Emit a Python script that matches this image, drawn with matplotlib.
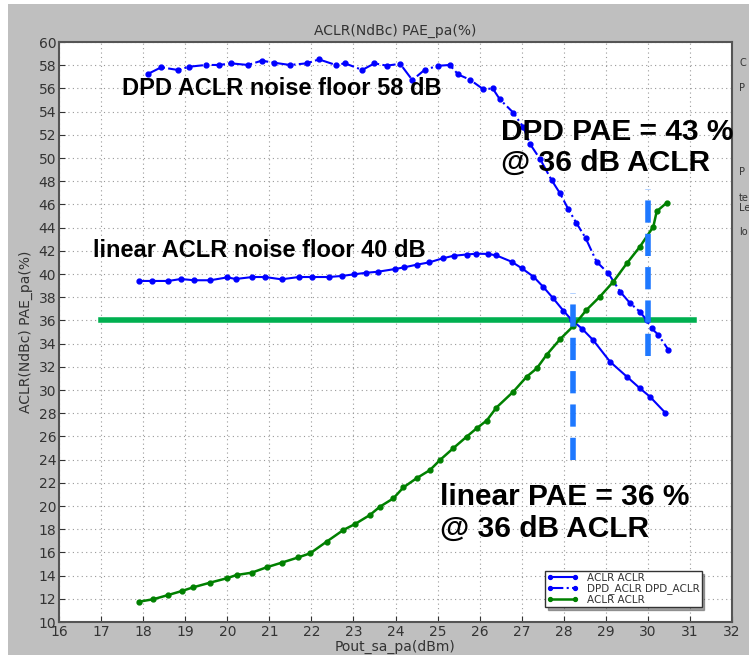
"""ACLR / PAE vs output power: linear PA vs DPD, with 36 dB ACLR markers."""
import matplotlib
matplotlib.use("Agg")
import matplotlib.pyplot as plt
from matplotlib.patches import Rectangle

# ── Data ─────────────────────────────────────────────────────────────

pout_lin = [17.90, 18.22, 18.60, 18.90, 19.21, 19.60, 20.00, 20.20, 20.60, 20.90,
            21.29, 21.70, 22.01, 22.41, 22.72, 23.01, 23.29, 23.59, 23.99, 24.20,
            24.50, 24.80, 25.12, 25.38, 25.69, 25.92, 26.20, 26.40, 26.76, 27.00,
            27.28, 27.51, 27.75, 27.99, 28.19, 28.43, 28.70, 29.10, 29.50, 29.81,
            30.05, 30.41]
aclr_lin = [39.40, 39.40, 39.40, 39.57, 39.46, 39.46, 39.71, 39.57, 39.74, 39.74,
            39.54, 39.74, 39.74, 39.74, 39.83, 39.97, 40.10, 40.20, 40.43, 40.57,
            40.80, 41.00, 41.35, 41.57, 41.68, 41.75, 41.73, 41.60, 41.06, 40.50,
            39.77, 38.90, 37.90, 36.84, 36.03, 35.30, 34.30, 32.44, 31.15, 30.15,
            29.42, 28.05]

pout_dpd = [18.11, 18.43, 18.82, 19.10, 19.49, 19.81, 20.09, 20.49, 20.82, 21.10,
            21.49, 21.89, 22.18, 22.58, 22.80, 23.21, 23.50, 23.79, 24.11, 24.40,
            24.70, 25.02, 25.29, 25.49, 25.77, 26.09, 26.31, 26.48, 26.80, 27.04,
            27.20, 27.44, 27.71, 27.91, 28.11, 28.30, 28.52, 28.78, 29.06, 29.34,
            29.58, 29.81, 29.97, 30.09, 30.25, 30.49]
aclr_dpd = [57.24, 57.82, 57.59, 57.87, 58.02, 58.02, 58.16, 58.02, 58.39, 58.22,
            58.02, 58.16, 58.50, 58.02, 58.16, 57.59, 58.16, 57.96, 58.12, 56.72,
            57.62, 57.95, 58.02, 57.20, 56.75, 55.92, 56.00, 55.06, 53.91, 52.65,
            51.20, 49.89, 48.10, 46.96, 45.58, 44.40, 43.10, 41.06, 40.06, 38.48,
            37.47, 36.75, 36.03, 35.32, 34.74, 33.45]

pout_pae = [17.90, 18.24, 18.60, 18.92, 19.19, 19.59, 19.99, 20.22, 20.58, 20.94,
            21.29, 21.69, 21.97, 22.36, 22.76, 23.04, 23.39, 23.63, 23.95, 24.19,
            24.50, 24.82, 25.06, 25.37, 25.69, 25.93, 26.17, 26.40, 26.80, 27.12,
            27.36, 27.59, 27.91, 28.23, 28.54, 28.86, 29.18, 29.50, 29.81, 30.13,
            30.21, 30.45]
pae = [11.75, 11.96, 12.33, 12.67, 12.99, 13.39, 13.77, 14.05, 14.25, 14.72,
       15.11, 15.57, 15.92, 16.92, 17.93, 18.45, 19.22, 19.94, 20.66, 21.61,
       22.39, 23.10, 23.97, 24.97, 25.97, 26.70, 27.37, 28.49, 29.85, 31.15,
       31.87, 33.02, 34.37, 35.52, 36.90, 38.05, 39.34, 40.92, 42.35, 44.08,
       45.40, 46.15]

aclr_target = 36.0
target_span = [17.0, 31.1]
pout_at_target = [28.21, 30.01]
vline_lo = [24.0, 32.9]
vline_hi = [38.4, 47.3]

legend_labels = ["ACLR ACLR", "DPD_ACLR DPD_ACLR", "ACLR ACLR"]
side_labels = ["C", "P", "P", "te\nLe", "lo"]

# ── Plot ─────────────────────────────────────────────────────────────

c_blue = "#0000ff"
c_green = "#008000"
c_target = "#00b050"
c_vline = "#1e78ff"
c_text = "#333333"

fig = plt.figure(figsize=(7.49, 6.59), dpi=100)
fig.patch.set_facecolor("white")
fig.patches.append(Rectangle((8 / 749, 4 / 659), 1, 1 - 8 / 659,
                             transform=fig.transFigure, facecolor="#bfbfbf",
                             edgecolor="none", zorder=-10))

ax = fig.add_axes([59 / 749, 37 / 659, 673 / 749, 580 / 659])
ax.set_facecolor("white")

ax.plot(pout_lin, aclr_lin, "-", color=c_blue, lw=1.5, marker="o", ms=3.5,
        label=legend_labels[0], zorder=4)
ax.plot(pout_dpd, aclr_dpd, "-.", color=c_blue, lw=1.5, marker="o", ms=3.5,
        label=legend_labels[1], zorder=4)
ax.plot(pout_pae, pae, "-", color=c_green, lw=1.8, marker="o", ms=3.5,
        label=legend_labels[2], zorder=4)

ax.plot(target_span, [aclr_target, aclr_target], color=c_target, lw=4, zorder=3)
for xv, lo, hi in zip(pout_at_target, vline_lo, vline_hi):
    ax.plot([xv, xv], [lo, hi], color=c_vline, lw=4, ls=(0, (4, 2)), zorder=5)

ax.set_xlim(16, 32)
ax.set_ylim(10, 60)
ax.set_xticks(range(16, 33))
ax.set_yticks(range(10, 61, 2))
ax.grid(True, ls=(0, (1, 3)), color="#999999", lw=0.8)
ax.tick_params(labelsize=10, colors=c_text, length=4, direction="in", pad=2)
for s in ax.spines.values():
    s.set_color("#555555")
    s.set_linewidth(1.5)

ax.set_title("ACLR(NdBc) PAE_pa(%)", fontsize=10, color=c_text, pad=5)
ax.set_xlabel("Pout_sa_pa(dBm)", fontsize=10, color=c_text, labelpad=1)
ax.set_ylabel("ACLR(NdBc) PAE_pa(%)", fontsize=10, color=c_text, labelpad=4)

txt = dict(family="Liberation Sans", weight="bold", color="black", zorder=6)
ax.text(17.5, 56.0, "DPD ACLR noise floor 58 dB", fontsize=17, va="center", **txt)
ax.text(16.8, 42.0, "linear ACLR noise floor 40 dB", fontsize=17, va="center", **txt)
ax.text(26.5, 50.9, "DPD PAE = 43 %\n@ 36 dB ACLR", fontsize=21.5, va="center",
        linespacing=1.15, **txt)
ax.text(25.05, 19.4, "linear PAE = 36 %\n@ 36 dB ACLR", fontsize=21.5, va="center",
        linespacing=1.15, **txt)

leg = ax.legend(loc="lower right", bbox_to_anchor=(0.955, 0.026), borderaxespad=0,
                fontsize=7.5, labelspacing=0.05, handlelength=3, numpoints=2,
                borderpad=0.2, fancybox=False, shadow=True, framealpha=1,
                edgecolor="#333333", markerscale=0.8)
for t in leg.get_texts():
    t.set_color(c_text)

for yp, s in zip([63, 88, 172, 203, 232], side_labels):
    fig.text(739 / 749, 1 - yp / 659, s, fontsize=7, color=c_text, va="center",
             linespacing=0.9)

fig.savefig("out.png", dpi=100, facecolor="white")
